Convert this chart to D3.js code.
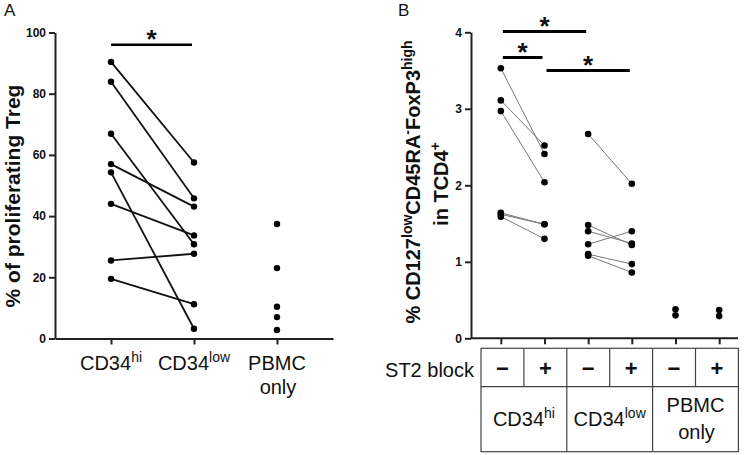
<!DOCTYPE html>
<html>
<head>
<meta charset="utf-8">
<script src="https://cdn.jsdelivr.net/npm/d3@7"></script>
<style>
  body { margin: 0; background: #fff; }
  svg text { font-family: "Liberation Sans", Arial, sans-serif; fill: #111; }
  .tick text { font-weight: bold; font-size: 12px; }
</style>
</head>
<body>
<div id="chart"></div>
<script>
// panel A data
var groupsA = ["CD34hi", "CD34low", "PBMC only"];
var cd34hiA = [90.4, 83.9, 66.9, 57.0, 54.3, 44.0, 25.5, 19.5];
var cd34lowA = [57.5, 45.8, 30.8, 43.1, 3.2, 33.7, 27.7, 11.2];
var pbmcA = [37.4, 23.0, 10.4, 7.0, 2.8];
var ticksA = [0, 20, 40, 60, 80, 100];
var sigA = [{ from: 0, to: 1, y: 96 }];

// panel B data
var groupsB = ["CD34hi-", "CD34hi+", "CD34low-", "CD34low+", "PBMC-", "PBMC+"];
var cd34hiMinusB = [3.53, 3.11, 2.97, 1.64, 1.62, 1.59];
var cd34hiPlusB = [2.41, 2.52, 2.04, 1.49, 1.49, 1.30];
var cd34lowMinusB = [2.67, 1.48, 1.40, 1.23, 1.10, 1.08];
var cd34lowPlusB = [2.02, 1.22, 1.24, 1.40, 0.97, 0.86];
var pbmcMinusB = [0.38, 0.30];
var pbmcPlusB = [0.37, 0.29];
var ticksB = [0, 1, 2, 3, 4];
var st2Row = ["\u2212", "+", "\u2212", "+", "\u2212", "+"];
var sourceRow = [["CD34", "hi"], ["CD34", "low"], ["PBMC", "only"]];
var sigB = [{ from: 0, to: 2, y: 4.01 }, { from: 0, to: 1, y: 3.67 }, { from: 1, to: 3, y: 3.50 }];

var svgWidth = 751;
var svgHeight = 455;

var svg = d3.select("#chart")
  .append("svg")
  .attr("width", svgWidth)
  .attr("height", svgHeight);

// ============ Panel A ============
var xA = d3.scalePoint().domain(groupsA).range([55, 333]).padding(0.675);
var yA = d3.scaleLinear().domain([0, 100]).range([338.5, 32.5]);

svg.append("text").attr("x", 4).attr("y", 16).attr("font-size", 17).text("A");

svg.append("g")
  .attr("transform", "translate(55,0)")
  .call(d3.axisLeft(yA).tickValues(ticksA).tickSize(6).tickSizeOuter(0))
  .call(function(g) { g.selectAll("path,line").attr("stroke", "#222").attr("stroke-width", 2); });

svg.append("g")
  .attr("transform", "translate(0,338.5)")
  .call(d3.axisBottom(xA).tickSize(6).tickSizeOuter(0).tickFormat(""))
  .call(function(g) { g.selectAll("path,line").attr("stroke", "#222").attr("stroke-width", 2); });

svg.append("text")
  .attr("transform", "translate(20,196) rotate(-90)")
  .attr("text-anchor", "middle")
  .attr("font-size", 21)
  .attr("font-weight", "bold")
  .text("% of proliferating Treg");

// x labels
groupsA.forEach(function(g, i) {
  var t = svg.append("text")
    .attr("x", xA(g))
    .attr("y", 370)
    .attr("text-anchor", "middle")
    .attr("font-size", 20);
  if (i < 2) {
    t.append("tspan").text("CD34");
    t.append("tspan").attr("font-size", 14).attr("dy", -8).text(i == 0 ? "hi" : "low");
  } else {
    t.text("PBMC");
    svg.append("text").attr("x", xA(g) + 1).attr("y", 394)
      .attr("text-anchor", "middle").attr("font-size", 20).text("only");
  }
});

// paired lines
var pairsA = cd34hiA.map(function(v, i) { return [v, cd34lowA[i]]; });
svg.selectAll(".pairA").data(pairsA).enter().append("line")
  .attr("x1", xA(groupsA[0])).attr("x2", xA(groupsA[1]))
  .attr("y1", function(d) { return yA(d[0]); })
  .attr("y2", function(d) { return yA(d[1]); })
  .attr("stroke", "#111").attr("stroke-width", 1.8);

var ptsA = [];
cd34hiA.forEach(function(v) { ptsA.push({ g: groupsA[0], v: v }); });
cd34lowA.forEach(function(v) { ptsA.push({ g: groupsA[1], v: v }); });
pbmcA.forEach(function(v) { ptsA.push({ g: groupsA[2], v: v }); });
svg.selectAll(".ptA").data(ptsA).enter().append("circle")
  .attr("cx", function(d) { return xA(d.g); })
  .attr("cy", function(d) { return yA(d.v); })
  .attr("r", 3.2)
  .attr("fill", "#000");

sigA.forEach(function(s) {
  var x1 = xA(groupsA[s.from]), x2 = xA(groupsA[s.to]) - 2;
  svg.append("line").attr("x1", x1).attr("x2", x2)
    .attr("y1", yA(s.y)).attr("y2", yA(s.y))
    .attr("stroke", "#000").attr("stroke-width", 2.5);
  svg.append("text").attr("x", (x1 + x2) / 2).attr("y", yA(s.y) + 3)
    .attr("text-anchor", "middle").attr("font-size", 26).attr("font-weight", "bold").text("*");
});

// ============ Panel B ============
var xB = d3.scalePoint().domain(groupsB).range([479, 741]).padding(0.5);
var yB = d3.scaleLinear().domain([0, 4]).range([338.3, 32.3]);

svg.append("text").attr("x", 398).attr("y", 16).attr("font-size", 17).text("B");

svg.append("g")
  .attr("transform", "translate(471,0)")
  .call(d3.axisLeft(yB).tickValues(ticksB).tickSize(6).tickSizeOuter(0).tickFormat(d3.format("d")))
  .call(function(g) { g.selectAll("path,line").attr("stroke", "#222").attr("stroke-width", 2); });

var xAxisB = svg.append("g")
  .attr("transform", "translate(0,338.3)")
  .call(d3.axisBottom(xB).tickSize(6).tickSizeOuter(0).tickFormat(""));
xAxisB.select(".domain").remove();
xAxisB.selectAll("line").attr("stroke", "#222").attr("stroke-width", 2);
xAxisB.append("line").attr("x1", 471).attr("x2", 738).attr("y1", 0).attr("y2", 0)
  .attr("stroke", "#222").attr("stroke-width", 2);

// y label (two lines)
var yl = svg.append("text")
  .attr("transform", "translate(420,182) rotate(-90)")
  .attr("text-anchor", "middle")
  .attr("font-size", 20)
  .attr("font-weight", "bold");
yl.append("tspan").text("% CD127");
yl.append("tspan").attr("font-size", 14).attr("dy", -8).text("low");
yl.append("tspan").attr("dy", 8).text("CD45RA");
yl.append("tspan").attr("font-size", 14).attr("dy", -8).text("-");
yl.append("tspan").attr("dy", 8).text("FoxP3");
yl.append("tspan").attr("font-size", 14).attr("dy", -8).text("high");

var yl2 = svg.append("text")
  .attr("transform", "translate(448,184) rotate(-90)")
  .attr("text-anchor", "middle")
  .attr("font-size", 20)
  .attr("font-weight", "bold");
yl2.append("tspan").text("in TCD4");
yl2.append("tspan").attr("font-size", 14).attr("dy", -8).text("+");

// paired lines
function pairLines(a, b, ga, gb) {
  var pairs = a.map(function(v, i) { return [v, b[i]]; });
  svg.selectAll(null).data(pairs).enter().append("line")
    .attr("x1", xB(ga)).attr("x2", xB(gb))
    .attr("y1", function(d) { return yB(d[0]); })
    .attr("y2", function(d) { return yB(d[1]); })
    .attr("stroke", "#777").attr("stroke-width", 1);
}
pairLines(cd34hiMinusB, cd34hiPlusB, groupsB[0], groupsB[1]);
pairLines(cd34lowMinusB, cd34lowPlusB, groupsB[2], groupsB[3]);

var ptsB = [];
[cd34hiMinusB, cd34hiPlusB, cd34lowMinusB, cd34lowPlusB, pbmcMinusB, pbmcPlusB].forEach(function(arr, i) {
  arr.forEach(function(v) { ptsB.push({ g: groupsB[i], v: v }); });
});
svg.selectAll(".ptB").data(ptsB).enter().append("circle")
  .attr("cx", function(d) { return xB(d.g); })
  .attr("cy", function(d) { return yB(d.v); })
  .attr("r", 3.3)
  .attr("fill", "#000");

sigB.forEach(function(s) {
  var x1 = xB(groupsB[s.from]) + 2, x2 = xB(groupsB[s.to]) - 2;
  svg.append("line").attr("x1", x1).attr("x2", x2)
    .attr("y1", yB(s.y)).attr("y2", yB(s.y))
    .attr("stroke", "#000").attr("stroke-width", 3);
  svg.append("text").attr("x", (x1 + x2) / 2).attr("y", yB(s.y) + 3)
    .attr("text-anchor", "middle").attr("font-size", 26).attr("font-weight", "bold").text("*");
});

// ============ table under panel B ============
var tLeft = 481, cellW = 42.9, rowTop = 348.3, rowMid = 386.7, rowBot = 451.7;
var table = svg.append("g").attr("stroke", "#444").attr("stroke-width", 1.2).attr("fill", "none");
table.append("rect").attr("x", tLeft).attr("y", rowTop).attr("width", cellW * 6).attr("height", rowBot - rowTop);
table.append("line").attr("x1", tLeft).attr("x2", tLeft + cellW * 6).attr("y1", rowMid).attr("y2", rowMid);
d3.range(1, 6).forEach(function(i) {
  table.append("line")
    .attr("x1", tLeft + cellW * i).attr("x2", tLeft + cellW * i)
    .attr("y1", rowTop).attr("y2", i % 2 == 0 ? rowBot : rowMid);
});

svg.append("text").attr("x", 474).attr("y", 377)
  .attr("text-anchor", "end").attr("font-size", 20).text("ST2 block");

st2Row.forEach(function(s, i) {
  svg.append("text")
    .attr("x", tLeft + cellW * (i + 0.5))
    .attr("y", 376)
    .attr("text-anchor", "middle")
    .attr("font-size", 22)
    .attr("font-weight", "bold")
    .text(s);
});

sourceRow.forEach(function(s, i) {
  var cx = tLeft + cellW * (2 * i + 1);
  if (i < 2) {
    var t = svg.append("text").attr("x", cx).attr("y", 426)
      .attr("text-anchor", "middle").attr("font-size", 20);
    t.append("tspan").text(s[0]);
    t.append("tspan").attr("font-size", 14).attr("dy", -8).text(s[1]);
  } else {
    svg.append("text").attr("x", cx).attr("y", 412)
      .attr("text-anchor", "middle").attr("font-size", 20).text(s[0]);
    svg.append("text").attr("x", cx + 1).attr("y", 439)
      .attr("text-anchor", "middle").attr("font-size", 20).text(s[1]);
  }
});
</script>
</body>
</html>
